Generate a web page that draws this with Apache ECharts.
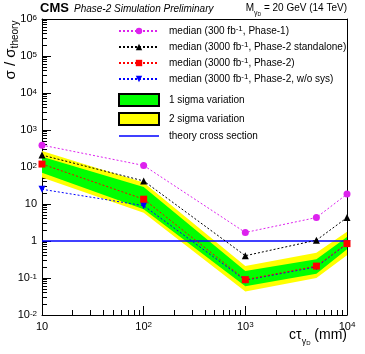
<!DOCTYPE html>
<html>
<head>
<meta charset="utf-8">
<title>CMS Phase-2 dark photon limits</title>
<script src="https://cdn.jsdelivr.net/npm/echarts@6/dist/echarts.min.js"></script>
</head>
<body style="margin:0">
<div id="main" style="width:365px;height:354px;"></div>
<script type="text/javascript">
// c*tau (mm)
var ctau = [10, 100, 1000, 5000, 10000];
// sigma / sigma_theory
var phase1 = [390, 110, 1.7, 4.3, 18.5];
var standalone = [210, 42, 0.4, 1.05, 4.3];
var phase2 = [120, 13.5, 0.09, 0.21, 0.85];
var noSys = [25, 9, 0.087, 0.2, 0.84];
var band1Lo = [70, 7.2, 0.06, 0.13, 0.6];
var band1Hi = [190, 29, 0.155, 0.32, 1.28];
var band2Lo = [52, 5.8, 0.043, 0.10, 0.41];
var band2Hi = [270, 38, 0.21, 0.48, 1.78];
var theoryX = [10, 10000];
var theoryY = [1, 1];

// tick labels, indexed by decade (x: 10^1..10^4, y: 10^-2..10^6)
var xLabels = ['10', '10{sup|2}', '10{sup|3}', '10{sup|4}'];
var yLabels = ['10{sup|-2}', '10{sup|-1}', '1', '10', '10{sup|2}', '10{sup|3}', '10{sup|4}', '10{sup|5}', '10{sup|6}'];

var legendNames = {
    p1: '{t|median (300 fb}{sup|-1}{t|, Phase-1)}',
    sa: '{t|median (3000 fb}{sup|-1}{t|, Phase-2 standalone)}',
    p2: '{t|median (3000 fb}{sup|-1}{t|, Phase-2)}',
    ns: '{t|median (3000 fb}{sup|-1}{t|, Phase-2, w/o sys)}',
    s1: '{t|1 sigma variation}',
    s2: '{t|2 sigma variation}',
    th: '{t|theory cross section}'
};

function pairs(xs, ys) {
    return xs.map(function (x, i) { return [x, ys[i]]; });
}

function bandSeries(name, lo, hi, color) {
    return {
        name: name,
        type: 'custom',
        data: [[ctau[0], lo[0]]],
        itemStyle: { color: color, borderColor: '#000', borderWidth: 1 },
        silent: true,
        renderItem: function (params, api) {
            var pts = [];
            ctau.forEach(function (x, i) { pts.push(api.coord([x, hi[i]])); });
            for (var i = ctau.length - 1; i >= 0; i--) pts.push(api.coord([ctau[i], lo[i]]));
            return { type: 'polygon', shape: { points: pts }, style: { fill: color } };
        }
    };
}

function lineSeries(name, ys, color, symbol, rot) {
    return {
        name: name,
        type: 'line',
        data: pairs(ctau, ys),
        symbol: symbol,
        symbolSize: 7,
        symbolRotate: rot || 0,
        itemStyle: { color: color },
        lineStyle: { color: color, width: 1, type: [2, 2] }
    };
}

var font = 'Liberation Sans';
var sup = { fontSize: 8, verticalAlign: 'top', lineHeight: 9, color: '#000', fontFamily: font };
var legendText = {
    fontFamily: font, fontSize: 10, color: '#000', padding: [0, 0, 0, 5],
    rich: { t: { fontSize: 10, color: '#000', lineHeight: 12, fontFamily: font }, sup: sup }
};

function logAxis(min, max, labels, first, margin) {
    return {
        type: 'log', logBase: 10, min: min, max: max, interval: 1,
        axisLine: { show: true, lineStyle: { color: '#000' } },
        splitLine: { show: false },
        minorSplitLine: { show: false },
        axisTick: { inside: true, length: 9, lineStyle: { color: '#000' } },
        minorTick: { show: true, splitNumber: 9, length: 5, lineStyle: { color: '#000' } },
        axisLabel: {
            color: '#000', fontSize: 11, fontFamily: font, margin: margin,
            formatter: function (v) { return labels[Math.round(Math.log10(v)) - first] || ''; },
            rich: { sup: sup }
        }
    };
}

// plain axes that only draw the top and right edges of the frame
function frameAxis(pos) {
    return {
        type: 'value', position: pos, min: 0, max: 1,
        axisLine: { show: true, onZero: false, lineStyle: { color: '#000' } },
        axisTick: { show: false }, axisLabel: { show: false }, splitLine: { show: false }
    };
}

var myChart = echarts.init(document.getElementById('main'));
var option = {
    animation: false,
    textStyle: { fontFamily: font },
    grid: { left: 42, right: 18, top: 19, bottom: 39 },
    legend: [{
        orient: 'vertical', left: 118, top: 25, padding: 0,
        itemWidth: 40, itemHeight: 8, itemGap: 5,
        data: ['p1', 'sa', 'p2', 'ns'],
        formatter: function (n) { return legendNames[n]; },
        textStyle: legendText
    }, {
        orient: 'vertical', left: 118, top: 93, padding: 0,
        itemWidth: 40, itemHeight: 12, itemGap: 5,
        data: [
            { name: 's1', icon: 'rect' },
            { name: 's2', icon: 'rect' },
            { name: 'th', icon: 'path://M0,0H40V1.5H0Z' }
        ],
        formatter: function (n) { return legendNames[n]; },
        textStyle: legendText
    }],
    xAxis: [logAxis(10, 10000, xLabels, 1, 6), frameAxis('top')],
    yAxis: [logAxis(0.01, 1000000, yLabels, -2, 5), frameAxis('right')],
    graphic: [
        { type: 'text', left: 40, top: 2, style: { text: 'CMS', font: 'bold 13px ' + font, fill: '#000' } },
        { type: 'text', left: 74, top: 4, style: { text: 'Phase-2 Simulation Preliminary', font: 'italic 10px ' + font, fill: '#000' } },
        {
            type: 'text', right: 18, top: 3,
            style: {
                text: '{m|M}{s|γ}{ss|D}{m| = 20 GeV (14 TeV)}', fill: '#000',
                rich: {
                    m: { fontSize: 10, fontFamily: font, verticalAlign: 'top', lineHeight: 14 },
                    s: { fontSize: 7, fontFamily: font, verticalAlign: 'bottom', lineHeight: 14 },
                    ss: { fontSize: 5, fontFamily: font, verticalAlign: 'bottom', lineHeight: 12 }
                }
            }
        },
        {
            type: 'text', x: 12, y: 50, rotation: Math.PI / 2,
            style: {
                text: '{m|σ / σ}{s|theory}', fill: '#000', align: 'center', verticalAlign: 'middle',
                rich: {
                    m: { fontSize: 15, fontFamily: font, verticalAlign: 'top', lineHeight: 17 },
                    s: { fontSize: 10, fontFamily: font, verticalAlign: 'bottom', lineHeight: 16 }
                }
            }
        },
        {
            type: 'text', right: 18, top: 328,
            style: {
                text: '{m|cτ}{s|γ}{ss|D}{m| (mm)}', fill: '#000',
                rich: {
                    m: { fontSize: 14, fontFamily: font, verticalAlign: 'top', lineHeight: 18 },
                    s: { fontSize: 9, fontFamily: font, verticalAlign: 'bottom', lineHeight: 18 },
                    ss: { fontSize: 6, fontFamily: font, verticalAlign: 'bottom', lineHeight: 14 }
                }
            }
        }
    ],
    series: [
        bandSeries('s2', band2Lo, band2Hi, '#ffff00'),
        bandSeries('s1', band1Lo, band1Hi, '#00ff00'),
        {
            name: 'th', type: 'line', data: pairs(theoryX, theoryY), symbol: 'none',
            itemStyle: { color: '#0000ff' }, lineStyle: { color: '#0000ff', width: 1.5 }
        },
        lineSeries('p1', phase1, '#dd22ee', 'circle'),
        lineSeries('sa', standalone, '#000000', 'triangle'),
        lineSeries('ns', noSys, '#0000ff', 'triangle', 180),
        lineSeries('p2', phase2, '#ff0000', 'rect')
    ]
};
myChart.setOption(option);
</script>
</body>
</html>
